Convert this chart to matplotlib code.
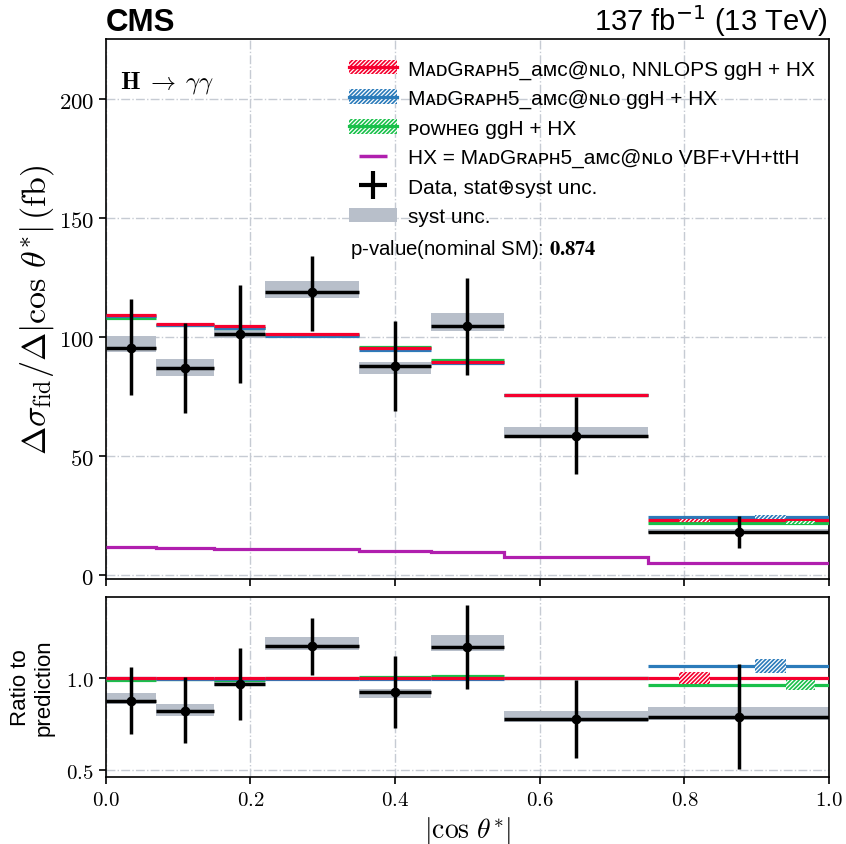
import numpy as np
import matplotlib
matplotlib.use("Agg")
import matplotlib.pyplot as plt
from matplotlib.patches import Patch
from matplotlib.lines import Line2D
from matplotlib.legend_handler import HandlerTuple
from matplotlib.ticker import FuncFormatter

plt.rcParams['mathtext.fontset'] = 'cm'
plt.rcParams['hatch.linewidth'] = 1.2
SANS = ['Liberation Sans', 'DejaVu Sans']

# bins in |cos theta*|
edges = np.array([0.0, 0.07, 0.15, 0.22, 0.35, 0.45, 0.55, 0.75, 1.0])

# measured cross sections (fb)
data = np.array([95.4, 86.7, 101.0, 118.6, 87.8, 104.6, 58.5, 18.0])
data_lo = np.array([75.5, 67.8, 80.4, 102.4, 69.0, 83.9, 42.4, 11.5])
data_hi = np.array([115.7, 105.9, 121.7, 134.0, 106.6, 124.8, 74.8, 24.6])
syst_lo = np.array([93.4, 83.5, 99.6, 116.4, 84.5, 102.4, 57.6, 17.6])
syst_hi = np.array([100.2, 90.5, 103.6, 123.4, 89.5, 110.0, 62.0, 19.2])

# predictions (fb)
nnlops = np.array([109.0, 105.5, 104.5, 101.0, 95.2, 89.4, 75.6, 22.9])
amcnlo = np.array([108.8, 105.0, 103.8, 100.5, 94.6, 88.8, 75.4, 24.4])
powheg = np.array([107.7, 105.0, 103.5, 100.7, 95.7, 90.3, 75.4, 22.0])
hx = np.array([11.6, 11.4, 11.1, 10.7, 10.1, 9.6, 7.5, 5.2])
# relative theory uncertainties (only visible in the last bin)
nnlops_unc = np.array([0.0] * 7 + [0.032])
amcnlo_unc = np.array([0.0] * 7 + [0.035])
powheg_unc = np.array([0.0] * 7 + [0.027])

pvalue = "0.874"

RED = '#f5002e'
BLUE = '#2b7bba'
GREEN = '#19c04a'
PURPLE = '#b01fae'
GREY = '#b8bfca'
GRID = '#c6cbd3'
HATCH = '////////'

left = edges[:-1]
right = edges[1:]
width = right - left
centre = 0.5 * (left + right)

fig = plt.figure(figsize=(8.46, 8.45), dpi=100)
ax = fig.add_axes([0.1250, 0.3136, 0.8550, 0.6391])
rx = fig.add_axes([0.1250, 0.0793, 0.8550, 0.2130])

preds = [(nnlops, nnlops_unc, RED, (0.17, 0.34)),
         (amcnlo, amcnlo_unc, BLUE, (0.59, 0.76)),
         (powheg, powheg_unc, GREEN, (0.76, 0.92))]


def draw(a, scale):
    d = data / scale
    a.bar(left, syst_hi / scale - syst_lo / scale, width=width, bottom=syst_lo / scale,
          align='edge', color=GREY, lw=0, zorder=2)
    # green, blue, then red on top
    for vals, unc, col, fr in [preds[2], preds[1], preds[0]]:
        v = vals / scale
        a.hlines(v, left, right, colors=col, lw=2.3, zorder=3)
    for vals, unc, col, fr in preds:
        v = vals / scale
        m = unc > 0
        a.bar((left + fr[0] * width)[m], (2 * unc * v)[m], width=((fr[1] - fr[0]) * width)[m],
              bottom=(v - unc * v)[m], align='edge', facecolor='white', edgecolor=col,
              hatch=HATCH, lw=0, zorder=4)
    a.hlines(d, left, right, colors='black', lw=2.5, zorder=5)
    a.vlines(centre, data_lo / scale, data_hi / scale, colors='black', lw=2.5, zorder=5)
    a.plot(centre, d, 'o', color='black', ms=6, zorder=6)
    a.set_xlim(0, 1)
    a.grid(True, color=GRID, ls='-.', lw=1.0, zorder=0)
    a.set_axisbelow(True)
    a.tick_params(direction='out', length=5, width=1.2, top=False, right=False)
    for s in a.spines.values():
        s.set_linewidth(1.2)


draw(ax, 1.0)
ax.stairs(hx, edges, color=PURPLE, lw=2.3, zorder=3, baseline=None)
ax.set_ylim(-1.7, 225)
ax.set_yticks([0, 50, 100, 150, 200])
ax.set_xticks([0, 0.2, 0.4, 0.6, 0.8, 1.0])
ax.tick_params(labelbottom=False)
ax.yaxis.set_major_formatter(FuncFormatter(lambda v, p: r'$%d$' % v))
ax.tick_params(axis='y', labelsize=16.5)
ax.set_ylabel(r'$\Delta\sigma_{\rm fid}/\Delta|\cos\,\theta^{*}|\,(\mathrm{fb})$', fontsize=24.5, labelpad=2)

draw(rx, nnlops)
rx.set_ylim(0.46, 1.44)
rx.set_yticks([0.5, 1.0])
rx.set_xticks([0, 0.2, 0.4, 0.6, 0.8, 1.0])
rx.xaxis.set_major_formatter(FuncFormatter(lambda v, p: r'$%.1f$' % v))
rx.yaxis.set_major_formatter(FuncFormatter(lambda v, p: r'$%.1f$' % v))
rx.tick_params(labelsize=15)
rx.set_ylabel('Ratio to\nprediction', fontsize=16, family=SANS, labelpad=8)
rx.set_xlabel(r'$|\cos\,\theta^{*}|$', fontsize=20, labelpad=4)

fig.text(0.125, 0.963, 'CMS', fontsize=22.5, fontweight='bold', family=SANS, ha='left', va='baseline')
fig.text(0.979, 0.963, r'137 fb$^{-1}$ (13 TeV)', fontsize=21, family=SANS, ha='right',
         va='baseline', math_fontfamily='dejavusans')
ax.text(0.02, 0.945, r'$\mathbf{H}\;\rightarrow\;\mathrm{\gamma\gamma}$', transform=ax.transAxes,
        fontsize=18, ha='left', va='top')

mg = 'M\u1d00\u1d05G\u0280\u1d00\u1d18\u029c5_a\u1d0d\u1d04@\u0274\u029f\u1d0f'
pw = '\u1d18\u1d0f\u1d21\u029c\u1d07\u0262'
handles = [
    (Patch(facecolor='white', edgecolor=RED, hatch=HATCH, lw=0), Line2D([], [], color=RED, lw=2.3)),
    (Patch(facecolor='white', edgecolor=BLUE, hatch=HATCH, lw=0), Line2D([], [], color=BLUE, lw=2.3)),
    (Patch(facecolor='white', edgecolor=GREEN, hatch=HATCH, lw=0), Line2D([], [], color=GREEN, lw=2.3)),
    Line2D([], [], color=PURPLE, marker='_', ls='none', ms=20, mew=2.5),
    Line2D([], [], color='black', marker='+', ls='none', ms=20, mew=3),
    Patch(facecolor=GREY, lw=0),
]
labels = [mg + ', NNLOPS ggH + HX', mg + ' ggH + HX', pw + ' ggH + HX',
          'HX = ' + mg + ' VBF+VH+ttH', 'Data, stat\u2295syst unc.', 'syst unc.']
ax.legend(handles, labels, loc='upper left', bbox_to_anchor=(0.31, 0.997), frameon=False,
          prop={'family': SANS, 'size': 15}, handlelength=2.3, handletextpad=0.55,
          labelspacing=0.5, handler_map={tuple: HandlerTuple(ndivide=1)})
ax.text(0.337, 0.612, 'p-value(nominal SM): $\\mathbf{%s}$' % pvalue, transform=ax.transAxes,
        fontsize=14.7, family=SANS, ha='left', va='center', math_fontfamily='stix')

fig.savefig('out.png', dpi=100)
